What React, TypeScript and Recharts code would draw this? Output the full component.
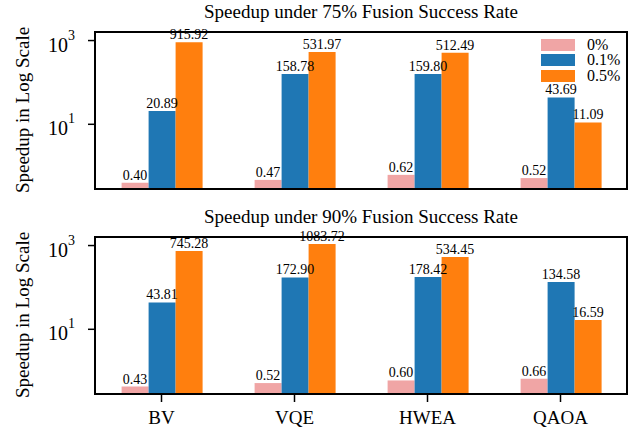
import React from 'react';
import { BarChart, Bar, XAxis, YAxis, LabelList, Legend } from 'recharts';

const categories = ['BV', 'VQE', 'HWEA', 'QAOA'];
const seriesNames = ['0%', '0.1%', '0.5%'];
const seriesColors = ['#f0a5a5', '#1f77b4', '#ff7f0e'];

const rate75_0 = [0.4, 0.47, 0.62, 0.52];
const rate75_01 = [20.89, 158.78, 159.8, 43.69];
const rate75_05 = [915.92, 531.97, 512.49, 11.09];

const rate90_0 = [0.43, 0.52, 0.6, 0.66];
const rate90_01 = [43.81, 172.9, 178.42, 134.58];
const rate90_05 = [745.28, 1083.72, 534.45, 16.59];

const titles = ['Speedup under 75% Fusion Success Rate', 'Speedup under 90% Fusion Success Rate'];
const yAxisLabel = 'Speedup in Log Scale';
const yTicks = [10, 1000];
const yDomain = [0.285, 1600];

const FONT = "'Liberation Serif', 'Times New Roman', serif";

const build = (a: number[], b: number[], c: number[]) =>
  categories.map((name, i) => ({ name, s0: a[i], s1: b[i], s2: c[i] }));

const data75 = build(rate75_0, rate75_01, rate75_05);
const data90 = build(rate90_0, rate90_01, rate90_05);

const YTick = (props: any) => {
  const { x, y, payload } = props;
  const exp = Math.round(Math.log10(payload.value));
  return (
    <text x={x} y={y + 11} textAnchor="end" fontSize={20} fontFamily={FONT} fill="#000">
      10
      <tspan fontSize={14} dy={-12}>
        {exp}
      </tspan>
    </text>
  );
};

const XTick = (props: any) => {
  const { x, y, payload } = props;
  return (
    <text x={x} y={y + 22} textAnchor="middle" fontSize={19} fontFamily={FONT} fill="#000">
      {payload.value}
    </text>
  );
};

const LegendContent = (props: any) => {
  const payload = props.payload || [];
  return (
    <div style={{ display: 'flex', flexDirection: 'column' }}>
      {payload.map((p: any, i: number) => (
        <div key={i} style={{ display: 'flex', alignItems: 'center', height: 15.5 }}>
          <span style={{ display: 'inline-block', width: 34, height: 12, background: p.color, marginRight: 12 }} />
          <span style={{ fontSize: 16, fontFamily: FONT, lineHeight: '16px', color: '#000' }}>{p.value}</span>
        </div>
      ))}
    </div>
  );
};

const fmt = (v: any) => Number(v).toFixed(2);

const Panel = ({ data, showX, showLegend, height }: { data: any[]; showX: boolean; showLegend: boolean; height: number }) => (
  <BarChart
    width={644}
    height={height}
    data={data}
    margin={{ top: 32, right: 17, left: 0, bottom: showX ? 0 : 16 }}
    barCategoryGap="20%"
    barGap={0}
  >
    <XAxis
      dataKey="name"
      height={showX ? 36 : 0}
      hide={!showX}
      axisLine={false}
      tickLine={showX ? { stroke: '#000', strokeWidth: 1.5 } : false}
      tick={showX ? <XTick /> : false}
      tickSize={8}
      tickMargin={0}
    />
    <YAxis
      type="number"
      scale="log"
      domain={yDomain}
      allowDataOverflow
      ticks={yTicks}
      width={95}
      axisLine={false}
      tickLine={{ stroke: '#000', strokeWidth: 1.5 }}
      tickSize={7}
      tickMargin={13}
      tick={<YTick />}
    />
    {showLegend && (
      <Legend
        layout="horizontal"
        verticalAlign="middle"
        align="center"
        content={<LegendContent />}
        wrapperStyle={{ left: 541, top: 37, width: 'auto', height: 'auto' }}
      />
    )}
    {['s0', 's1', 's2'].map((k, i) => (
      <Bar key={k} dataKey={k} name={seriesNames[i]} fill={seriesColors[i]} isAnimationActive={false}>
        <LabelList
          dataKey={k}
          position="top"
          offset={3}
          formatter={fmt}
          style={{ fontSize: 14, fontFamily: FONT, fill: '#000' }}
        />
      </Bar>
    ))}
  </BarChart>
);

const PLOT = { left: 95, right: 627, top: 32, bottom: 189 };

export default function App() {
  return (
    <div style={{ position: 'absolute', left: 0, top: 0, width: 644, height: 430, background: '#fff', fontFamily: FONT }}>
      <div style={{ position: 'absolute', left: 0, top: 0 }}>
        <Panel data={data75} showX={false} showLegend={true} height={205} />
      </div>
      <div style={{ position: 'absolute', left: 0, top: 205 }}>
        <Panel data={data90} showX={true} showLegend={false} height={225} />
      </div>
      <svg width={644} height={430} style={{ position: 'absolute', left: 0, top: 0, pointerEvents: 'none' }}>
        {[0, 205].map((off, i) => (
          <g key={i}>
            <rect
              x={PLOT.left}
              y={off + PLOT.top}
              width={PLOT.right - PLOT.left}
              height={PLOT.bottom - PLOT.top}
              fill="none"
              stroke="#000"
              strokeWidth={2}
            />
            <text x={361} y={off + 17.5} textAnchor="middle" fontSize={19} fontFamily={FONT} fill="#000">
              {titles[i]}
            </text>
            <text
              x={29}
              y={off + 110}
              transform={`rotate(-90, 29, ${off + 110})`}
              textAnchor="middle"
              fontSize={19}
              fontFamily={FONT}
              fill="#000"
            >
              {yAxisLabel}
            </text>
          </g>
        ))}
      </svg>
    </div>
  );
}
